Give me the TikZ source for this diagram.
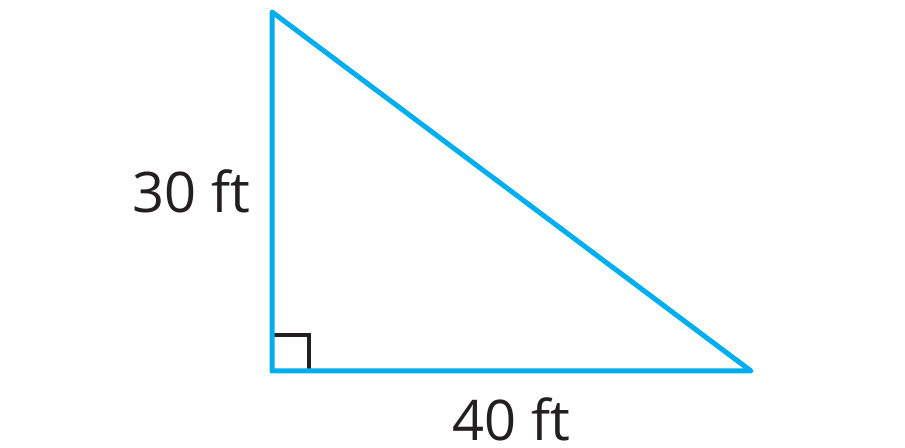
\documentclass[tikz,border=0pt]{standalone}
\usepackage{fontspec}
\setmainfont{Open Sans}
\usepackage{tikz}
\usetikzlibrary{positioning}
\definecolor{legcyan}{HTML}{00AEEF}
\definecolor{inkgray}{HTML}{231F20}
\tikzset{
  side/.style={draw=legcyan, line width=2.5pt, line join=round},
  rightmark/.style={draw=inkgray, line width=2.2pt},
  sidelabel/.style={text=inkgray, inner sep=0pt, anchor=base, font=\fontsize{28}{33}\selectfont}
}
\begin{document}
\begin{tikzpicture}[x=0.5pt, y=-0.5pt]
\useasboundingbox (0,0) rectangle (905,448);
% corners of the triangle
\coordinate (top) at (272,12);
\coordinate (corner) at (272,371);
\coordinate (tip) at (751,371);

% right angle mark
\draw[rightmark] ([yshift=18pt]corner) -| ([xshift=18.5pt]corner);

% the triangle itself
\draw[side] (top) -- (corner) -- (tip) -- cycle;

% side lengths
\node[sidelabel] (height) at (191.5,213) {30 ft};
\node[sidelabel] (base) at (511.5,441) {40 ft};
\end{tikzpicture}
\end{document}
